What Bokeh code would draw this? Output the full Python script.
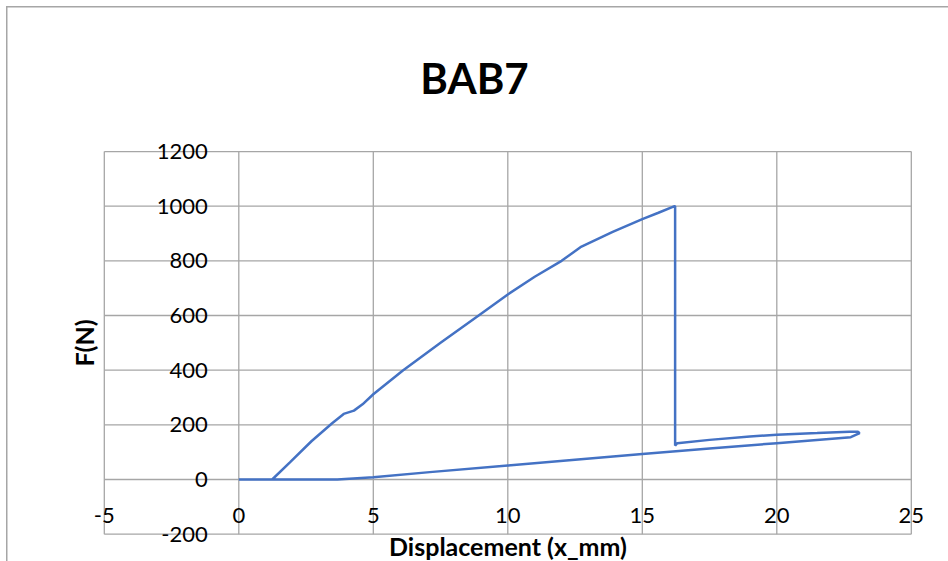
from bokeh.plotting import figure
from bokeh.models import Range1d, FixedTicker, Title, PrintfTickFormatter
from bokeh.embed import file_html
from bokeh.resources import INLINE

title_text = "BAB7"
x_label = "Displacement (x_mm)"
y_label = "F(N)"
x_ticks = [-5, 0, 5, 10, 15, 20, 25]
y_ticks = [-200, 0, 200, 400, 600, 800, 1000, 1200]

displacement = [0, 1.24, 1.9, 2.7, 3.47, 3.9, 4.28, 4.6, 5.0, 6.1, 7.5, 8.8, 10.0, 11.0,
                12.0, 12.7, 13.9, 15.0, 15.6, 16.2, 16.22, 16.22, 16.3, 17.5, 19.0, 20.0,
                21.5, 22.7, 23.0, 23.08, 22.75, 20.0, 17.5, 15.0, 12.5, 10.0, 7.1, 5.0,
                3.66, 1.5, 0]
force = [0, 0, 63, 140, 206, 240, 252, 275, 312, 399, 500, 592, 677, 742,
         800, 850, 906, 953, 976, 1000, 1000, 124, 133, 145, 157, 164,
         170, 175, 175, 170, 155, 133, 113, 93, 72, 51, 27, 8.5,
         0, 0, 0]

FONT = "Lato"
GRID = "#a6a6a6"
LINE = "#4472C4"

# layout constants (pixels): where x=0 / y=0 fall and the scale per unit
W, H = 948, 561
PX0, SX = 238.3, 26.9
PY0, SY = 479.0, 0.2733
FRAME_TOP = 138

p = figure(width=W, height=H, output_backend="svg", toolbar_location=None,
           x_range=Range1d(-PX0 / SX, (W - PX0) / SX),
           y_range=Range1d((PY0 - H) / SY, (PY0 - FRAME_TOP) / SY),
           min_border_left=0, min_border_right=0, min_border_top=FRAME_TOP,
           min_border_bottom=0, background_fill_color=None,
           border_fill_color=None, outline_line_color=None)
p.styles = {
    "background": ("linear-gradient(#a6a6a6, #a6a6a6) 6px 6px / 100% 1.5px no-repeat, "
                   "linear-gradient(#a6a6a6, #a6a6a6) 6px 6px / 1.5px 100% no-repeat, white"),
}

p.title.text = title_text
p.title.align = "center"
p.title.text_font = FONT
p.title.text_font_size = "42px"
p.title.text_font_style = "bold"
p.title.text_color = "black"
p.add_layout(Title(text=" ", text_font_size="17px"), "above")

p.xgrid.visible = False
p.ygrid.visible = False

# plot-area grid (also forms its border)
nx, ny = len(x_ticks), len(y_ticks)
p.segment(x0=x_ticks, y0=[y_ticks[0]] * nx, x1=x_ticks, y1=[y_ticks[-1]] * nx,
          line_color=GRID, line_width=1.3)
p.segment(x0=[x_ticks[0]] * ny, y0=y_ticks, x1=[x_ticks[-1]] * ny, y1=y_ticks,
          line_color=GRID, line_width=1.3)

# axes crossing at the origin
p.xaxis.fixed_location = 0
p.yaxis.fixed_location = 0
p.xaxis.ticker = FixedTicker(ticks=x_ticks)
p.yaxis.ticker = FixedTicker(ticks=y_ticks)
p.xaxis.formatter = PrintfTickFormatter(format="%d")
p.yaxis.formatter = PrintfTickFormatter(format="%d")
p.xaxis.bounds = (x_ticks[0], x_ticks[-1])
p.yaxis.bounds = (y_ticks[0], y_ticks[-1])
p.xaxis.axis_label = x_label
p.yaxis.axis_label = y_label
for ax in (p.xaxis, p.yaxis):
    ax.axis_line_color = None
    ax.major_tick_line_color = None
    ax.minor_tick_line_color = None
    ax.major_label_text_font = FONT
    ax.major_label_text_font_size = "22px"
    ax.major_label_text_color = "black"
    ax.axis_label_text_font = FONT
    ax.axis_label_text_font_size = "25px"
    ax.axis_label_text_font_style = "bold"
    ax.axis_label_text_color = "black"
p.xaxis.major_label_standoff = 22
p.yaxis.major_label_standoff = 25
p.xaxis.axis_label_standoff = 5
p.yaxis.axis_label_standoff = 54

p.line(displacement, force, line_color=LINE, line_width=2.5)

open("out.html", "w").write(file_html(p, INLINE))
